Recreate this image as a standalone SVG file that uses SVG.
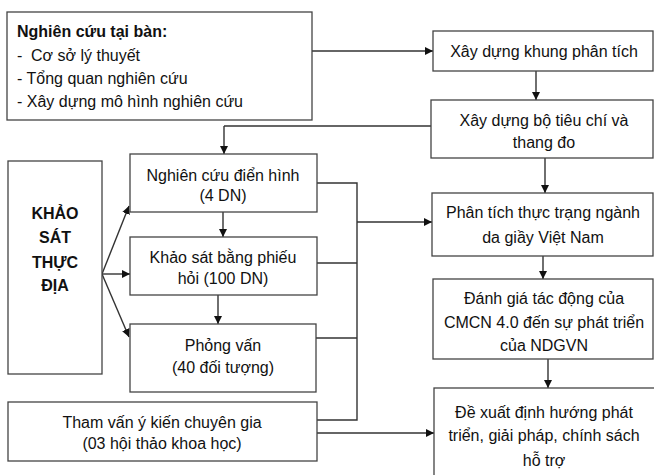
<svg xmlns="http://www.w3.org/2000/svg" width="654" height="475" viewBox="0 0 654 475">
<defs>
<marker id="ah" viewBox="0 0 10 10" refX="10" refY="5" markerWidth="8" markerHeight="8" markerUnits="userSpaceOnUse" orient="auto">
<path d="M0,0 L10,5 L0,10 z" fill="#111"/>
</marker>
<style>
.box{fill:#fff;stroke:#444;stroke-width:1.3}
.t{font-family:"Liberation Sans",Arial,sans-serif;font-size:16px;fill:#111}
.c{text-anchor:middle}
.b{font-weight:bold}
.ln{fill:none;stroke:#333;stroke-width:1.4}
.ar{fill:none;stroke:#333;stroke-width:1.4;marker-end:url(#ah)}
</style>
</defs>
<rect width="654" height="475" fill="#fff"/>
<g id="connectors">
<path class="ar" d="M312,51 H433"/>
<path class="ar" d="M536,71 V100"/>
<path class="ln" d="M431,126 H224"/>
<path class="ar" d="M224,126 V154"/>
<path class="ar" d="M545,158 V193"/>
<path class="ar" d="M223,212 V237"/>
<path class="ar" d="M218,295 V324"/>
<path class="ln" d="M317,183 H357 V420 H317"/>
<path class="ln" d="M317,263 H357"/>
<path class="ln" d="M316,338 H357"/>
<path class="ar" d="M357,222 H432"/>
<path class="ar" d="M317,433 H434"/>
<path class="ar" d="M543,256 V279"/>
<path class="ar" d="M548,359 V388"/>
<path class="ar" d="M102,274 L129,206"/>
<path class="ar" d="M102,274 H130"/>
<path class="ar" d="M102,274 L129,337"/>
</g>
<g id="desk">
<rect class="box" x="7" y="12" width="305" height="108"/>
<text class="t b" x="17" y="37">Nghiên cứu tại bàn:</text>
<text class="t" x="17" y="61">-<tspan x="31">Cơ sở lý thuyết</tspan></text>
<text class="t" x="17" y="84">- Tổng quan nghiên cứu</text>
<text class="t" x="17" y="107">- Xây dựng mô hình nghiên cứu</text>
</g>
<g id="khung">
<rect class="box" x="433" y="31" width="220" height="40"/>
<text class="t c" x="544" y="57">Xây dựng khung phân tích</text>
</g>
<g id="tieuchi">
<rect class="box" x="431" y="100" width="222" height="58"/>
<text class="t c" x="544" y="126">Xây dựng bộ tiêu chí và</text>
<text class="t c" x="544" y="148">thang đo</text>
</g>
<g id="khaosat">
<rect class="box" x="8" y="161" width="94" height="213"/>
<text class="t b c" x="55" y="219">KHẢO</text>
<text class="t b c" x="55" y="243">SÁT</text>
<text class="t b c" x="55" y="268">THỰC</text>
<text class="t b c" x="55" y="291">ĐỊA</text>
</g>
<g id="dienhinh">
<rect class="box" x="130" y="154" width="187" height="58"/>
<text class="t c" x="223" y="181">Nghiên cứu điển hình</text>
<text class="t c" x="223" y="201">(4 DN)</text>
</g>
<g id="phieuhoi">
<rect class="box" x="130" y="237" width="187" height="58"/>
<text class="t c" x="223" y="263">Khảo sát bằng phiếu</text>
<text class="t c" x="223" y="284">hỏi (100 DN)</text>
</g>
<g id="phongvan">
<rect class="box" x="130" y="324" width="186" height="68"/>
<text class="t c" x="223" y="351">Phỏng vấn</text>
<text class="t c" x="223" y="373">(40 đối tượng)</text>
</g>
<g id="thamvan">
<rect class="box" x="8" y="402" width="309" height="59"/>
<text class="t c" x="162" y="428">Tham vấn ý kiến chuyên gia</text>
<text class="t c" x="162" y="449">(03 hội thảo khoa học)</text>
</g>
<g id="phantich">
<rect class="box" x="432" y="193" width="221" height="63"/>
<text class="t c" x="543" y="218">Phân tích thực trạng ngành</text>
<text class="t c" x="543" y="243">da giầy Việt Nam</text>
</g>
<g id="danhgia">
<rect class="box" x="433" y="279" width="220" height="80"/>
<text class="t c" x="544" y="304">Đánh giá tác động của</text>
<text class="t c" x="544" y="328">CMCN 4.0 đến sự phát triển</text>
<text class="t c" x="544" y="351">của NDGVN</text>
</g>
<g id="dexuat">
<rect class="box" x="434" y="388" width="230" height="100"/>
<text class="t c" x="544" y="418">Đề xuất định hướng phát</text>
<text class="t c" x="544" y="441">triển, giải pháp, chính sách</text>
<text class="t c" x="544" y="466">hỗ trợ</text>
</g>
</svg>
